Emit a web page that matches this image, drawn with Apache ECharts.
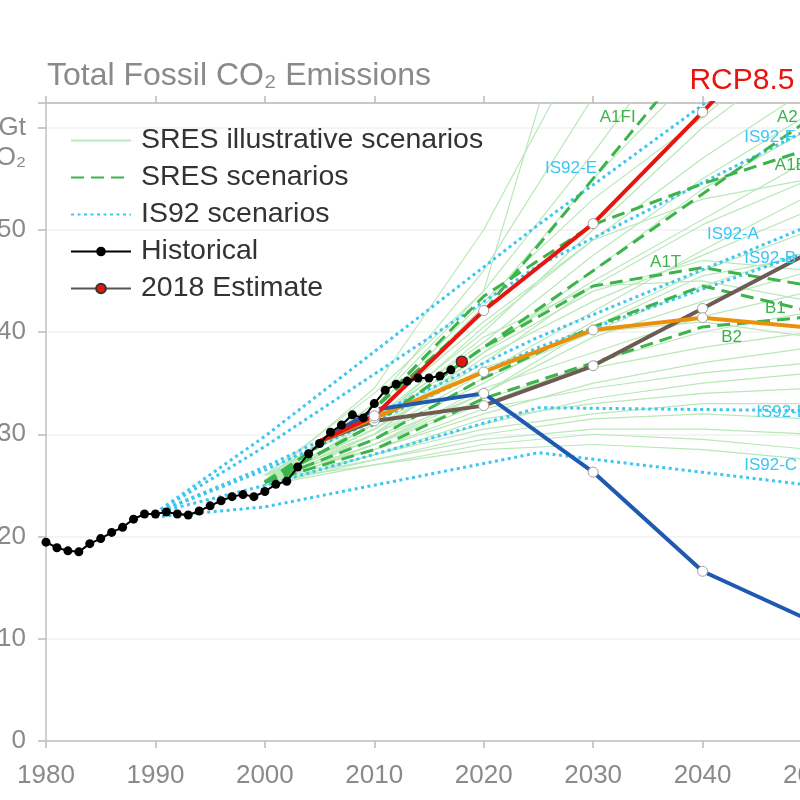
<!DOCTYPE html>
<html>
<head>
<meta charset="utf-8">
<script src="https://cdn.jsdelivr.net/npm/echarts@6/dist/echarts.min.js"></script>
<style>
html,body{margin:0;padding:0;background:#fff;}
#chart{width:800px;height:800px;}
</style>
</head>
<body>
<div id="chart"></div>
<script>
// ---------------- DATA ----------------
const histYears = [1980,1981,1982,1983,1984,1985,1986,1987,1988,1989,1990,1991,1992,1993,1994,1995,1996,1997,1998,1999,2000,2001,2002,2003,2004,2005,2006,2007,2008,2009,2010,2011,2012,2013,2014,2015,2016,2017];
const histValues = [19.45,18.9,18.6,18.5,19.3,19.8,20.4,20.9,21.7,22.2,22.2,22.4,22.2,22.1,22.5,23.0,23.5,23.9,24.1,23.9,24.4,25.1,25.4,26.8,28.1,29.1,30.2,30.9,31.9,31.6,33.0,34.3,34.9,35.2,35.5,35.5,35.7,36.3];
const estimateYear = [2018];
const estimateValue = [37.1];

const rcpYears = [2005,2010,2020,2030,2040,2050];
const rcp85 = [29.3,31.8,42.1,50.6,61.5,73.0];
const rcpOrange = [29.3,31.6,36.1,40.2,41.4,40.4];
const rcpBrown = [29.3,31.3,32.8,36.7,42.3,47.9];
const rcpBlue = [29.3,32.4,34.0,26.3,16.6,11.7];

const sresYears = [2000,2010,2020,2030,2040,2050];
const sresA1FI = [25.3,32.5,42.0,55.0,68.0,82.0];
const sresA2   = [25.3,31.0,38.5,46.0,53.5,61.0];
const sresA1B  = [25.3,32.5,43.5,50.5,54.5,58.0];
const sresA1T  = [25.3,31.0,38.5,44.5,46.3,44.5];
const sresB1   = [25.3,29.5,35.5,40.5,44.5,42.0];
const sresB2   = [25.3,28.5,33.5,37.0,40.5,41.5];

const sresIllustrative = [
  [26.0,34.0,44.0,80.0,100,120],
  [25.5,34.5,50.0,70.0,90,110],
  [25.5,33.0,46.0,63.0,82,100],
  [25.0,33.0,44.0,57.5,72,88],
  [25.5,32.0,42.5,55.0,66,78],
  [25.5,32.5,43.0,53.0,61,70],
  [25.0,31.5,40.0,50.0,60,68],
  [25.5,31.0,40.5,49.0,57,64],
  [26.0,31.5,39.0,47.5,55,61.5],
  [25.5,30.5,38.0,46.0,54,60],
  [25.0,31.0,38.5,45.0,51,57],
  [25.5,30.5,37.0,44.5,50.5,55],
  [26.0,30.0,36.0,42.0,48,53.5],
  [25.5,30.0,37.5,43.0,47.5,52],
  [25.0,30.0,35.0,41.0,46,50],
  [25.5,29.5,35.5,40.0,44.5,48],
  [26.0,29.5,34.0,39.5,43,46],
  [25.5,29.0,34.5,38.0,41.5,44],
  [25.0,29.0,33.0,37.0,40,42],
  [25.5,29.0,33.5,36.5,38.5,40],
  [25.5,28.5,32.0,35.0,37,38.5],
  [26.0,28.5,32.5,34.5,36,37],
  [25.0,28.0,31.0,33.5,35,36],
  [25.5,28.0,31.5,33.0,34,34.5],
  [25.0,28.0,30.5,32.0,33,33],
  [25.5,27.5,30.0,31.5,32,31.5],
  [25.0,27.5,29.5,30.5,30.5,30],
  [25.5,27.0,29.0,30.0,29.5,28.5],
  [25.0,27.0,28.5,29.0,28.5,27.5],
  [25.5,30.0,38.0,44.0,47,46],
  [25.5,31.0,39.5,44.5,45,43],
  [25.0,29.0,34.0,40.5,45.5,47.5],
  [26.0,32.0,41.0,49.0,53,55],
  [25.5,30.5,36.5,40.0,41,39.5]
];

const is92Years = [1990,2000,2025,2050];
const is92E = [22.3,29.8,50.5,70.0];
const is92F = [22.3,28.8,46.5,60.0];
const is92A = [22.3,26.8,39.5,50.5];
const is92B = [22.3,26.5,38.5,48.0];
const is92D = [22.3,25.0,32.6,32.3];
const is92C = [21.9,22.9,28.2,25.0];

const xTicks = [1980,1990,2000,2010,2020,2030,2040,2050];
const yTicks = [0,10,20,30,40,50,60];

// label texts and their anchor (data coordinates)
const labelTexts  = ['A1FI','A2','A1B','IS92-F','IS92-E','IS92-A','IS92-B','A1T','B1','B2','IS92-D','IS92-C'];
const labelYears  = [2030.6,2046.8,2046.6,2043.8,2025.6,2040.4,2043.8,2035.2,2045.7,2041.7,2044.9,2043.8];
const labelValues = [61.0,61.0,56.3,59.0,56.0,49.6,47.2,46.8,42.3,39.5,32.1,27.0];
const labelKinds  = ['sres','sres','sres','is92','is92','is92','is92','sres','sres','sres','is92','is92'];

// ---------------- STYLE ----------------
const FONT = '"Liberation Sans", Arial, Helvetica, sans-serif';
const C_THIN = '#b9e8b9';
const C_SRES = '#3cb44b';
const C_IS92 = '#3cc6f2';
const C_RED = '#e8150f';
const C_ORANGE = '#ea900b';
const C_BROWN = '#6e5b53';
const C_BLUE = '#2059b0';
const AXIS_GRAY = '#8a8a8a';

function pairs(xs, ys){ return xs.map((x,i)=>[x, ys[i]]); }

const series = [];
sresIllustrative.forEach(arr => {
  series.push({
    type:'line', name:'SRES illustrative scenarios', data: pairs(sresYears, arr),
    symbol:'none', silent:true, z:1,
    itemStyle:{color:C_THIN}, lineStyle:{color:C_THIN, width:1.2}
  });
});
[is92E,is92F,is92A,is92B,is92D,is92C].forEach(arr => {
  series.push({
    type:'line', name:'IS92 scenarios', data: pairs(is92Years, arr),
    symbol:'none', silent:true, z:2,
    itemStyle:{color:C_IS92}, lineStyle:{color:C_IS92, width:3, type:[3,3.5]}
  });
});
[sresA1FI,sresA2,sresA1B,sresA1T,sresB1,sresB2].forEach(arr => {
  series.push({
    type:'line', name:'SRES scenarios', data: pairs(sresYears, arr),
    symbol:'none', silent:true, z:3,
    itemStyle:{color:C_SRES}, lineStyle:{color:C_SRES, width:3, type:[13,7]}
  });
});
function rcpSeries(name, vals, color){
  return {
    type:'line', name:name, z:4,
    data: rcpYears.map((y,i)=> i===0 ? {value:[y, vals[i]], symbol:'none'} : [y, vals[i]]),
    symbol:'circle', symbolSize:10, showAllSymbol:true,
    lineStyle:{color:color, width:4},
    itemStyle:{color:'#ffffff', borderColor:'#a0a0a0', borderWidth:1}
  };
}
series.push(rcpSeries('RCP4.5', rcpBrown, C_BROWN));
series.push(rcpSeries('RCP6.0', rcpOrange, C_ORANGE));
series.push(rcpSeries('RCP2.6', rcpBlue, C_BLUE));
series.push(rcpSeries('RCP8.5', rcp85, C_RED));
series.push({
  type:'line', name:'Historical', data: pairs(histYears, histValues), z:6,
  symbol:'circle', symbolSize:9, showAllSymbol:true,
  lineStyle:{color:'#000', width:2}, itemStyle:{color:'#000'}
});
series.push({
  type:'line', name:'2018 Estimate', data: pairs(estimateYear, estimateValue), z:7,
  symbol:'circle', symbolSize:11,
  lineStyle:{color:'#555', width:2.5},
  itemStyle:{color:'#e8150f', borderColor:'#333', borderWidth:1.5}
});

const option = {
  animation:false,
  backgroundColor:'#ffffff',
  title:{
    text:'Total Fossil CO₂ Emissions', left:47, top:60, padding:0,
    textStyle:{fontFamily:FONT, fontSize:32, fontWeight:'normal', color:AXIS_GRAY}
  },
  legend:{
    orient:'vertical', left:70, top:126, padding:0,
    itemWidth:60, itemHeight:12, itemGap:8, selectedMode:false,
    textStyle:{fontFamily:FONT, fontSize:28.5, color:'#333', padding:[0,0,0,5]},
    data:[
      {name:'SRES illustrative scenarios', itemStyle:{opacity:0}},
      {name:'SRES scenarios', itemStyle:{opacity:0}},
      {name:'IS92 scenarios', itemStyle:{opacity:0}},
      'Historical',
      '2018 Estimate'
    ]
  },
  grid:{left:46, right:-12, top:103, bottom:59, containLabel:false, outerBoundsMode:'none'},
  xAxis:[{
    type:'value', min:xTicks[0], max:xTicks[xTicks.length-1], interval:10, position:'bottom',
    axisLine:{show:true, lineStyle:{color:'#cccccc', width:2}},
    axisTick:{show:true, length:7, lineStyle:{color:'#bbbbbb', width:1.5}},
    axisLabel:{fontFamily:FONT, fontSize:26, color:AXIS_GRAY, margin:22, formatter: v => String(v)},
    splitLine:{show:false}
  },{
    type:'value', min:xTicks[0], max:xTicks[xTicks.length-1], interval:10, position:'top',
    axisLine:{show:true, lineStyle:{color:'#c8c8c8', width:2}},
    axisTick:{show:true, length:7, lineStyle:{color:'#bbbbbb', width:1.5}},
    axisLabel:{show:false}, splitLine:{show:false}
  }],
  yAxis:{
    type:'value', min:0, max:62.4, interval:10,
    axisLine:{show:true, lineStyle:{color:'#c0c0c0', width:1.5}},
    axisTick:{show:true, length:8, lineStyle:{color:'#bbbbbb', width:1.5}},
    axisLabel:{
      fontFamily:FONT, fontSize:26, color:AXIS_GRAY, margin:20, lineHeight:30,
      formatter: v => v === 60 ? '\nGt\nCO₂' : (yTicks.indexOf(v) >= 0 ? String(v) : '')
    },
    splitLine:{show:true, lineStyle:{color:'#f0f0f0', width:1.5}}
  },
  series: series
};

const chart = echarts.init(document.getElementById('chart'), null, {renderer:'canvas'});
chart.setOption(option);

const graphics = labelTexts.map((t,i) => {
  const p = chart.convertToPixel({gridIndex:0}, [labelYears[i], labelValues[i]]);
  return {
    type:'text', x:p[0], y:p[1], z:100, silent:true,
    style:{text:t, fill: labelKinds[i]==='sres' ? C_SRES : C_IS92,
      font:'17px ' + FONT, align:'left', verticalAlign:'middle'}
  };
});
const rp = chart.convertToPixel({gridIndex:0}, [2038.8, 64.6]);
graphics.push({
  type:'text', x:rp[0], y:rp[1], z:100, silent:true,
  style:{text:'RCP8.5', fill:C_RED, font:'30px ' + FONT, align:'left', verticalAlign:'middle'}
});
chart.setOption({graphic: graphics});
</script>
</body>
</html>
